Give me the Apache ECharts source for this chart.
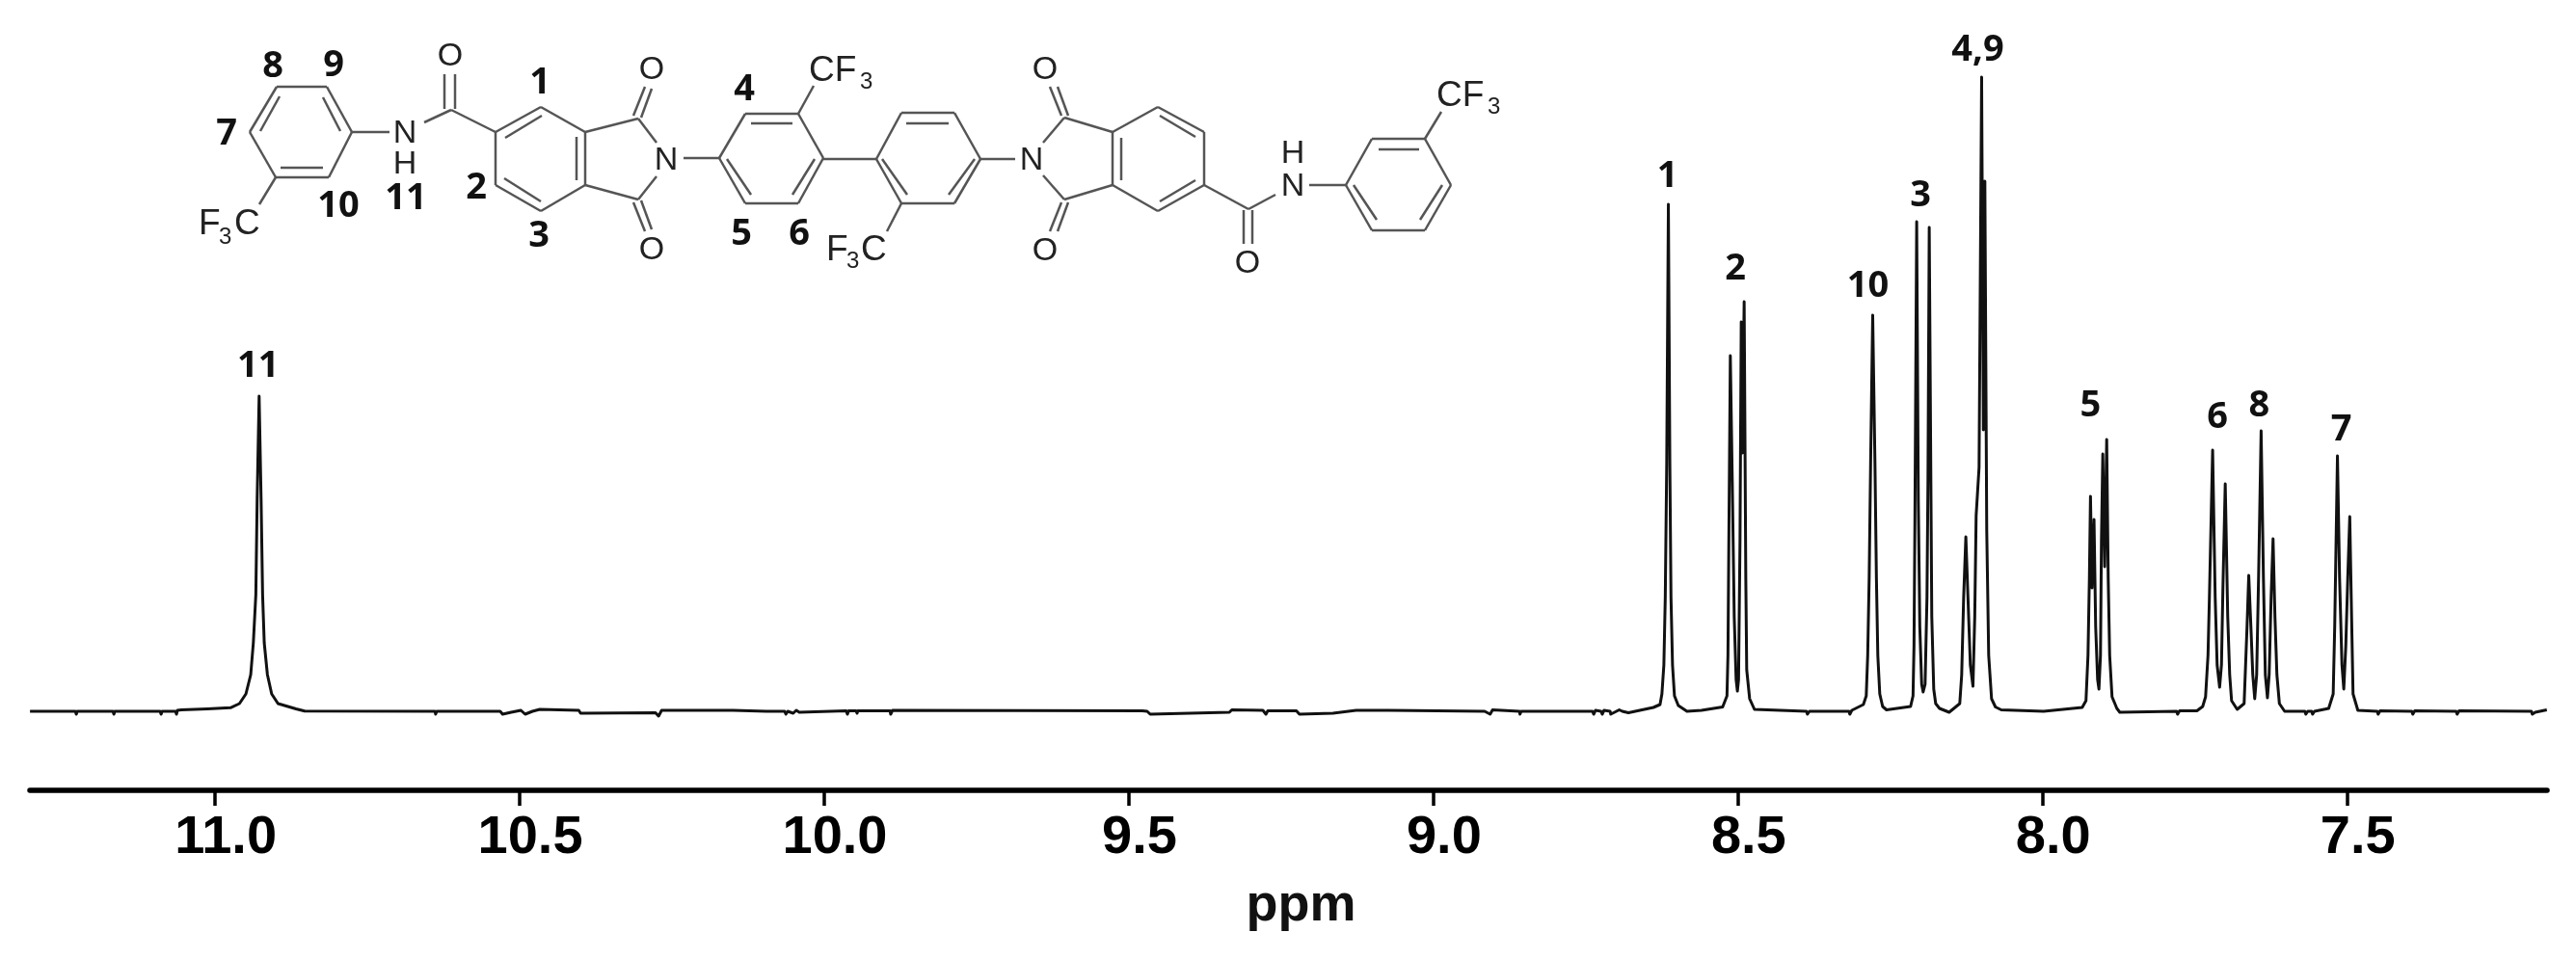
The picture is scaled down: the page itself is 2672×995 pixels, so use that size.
<!DOCTYPE html>
<html>
<head>
<meta charset="utf-8">
<title>1H NMR spectrum</title>
<style>
    html, body { margin: 0; padding: 0; background: #fff; }
    #chart { width: 2672px; height: 995px; }
</style>
<script src="https://cdn.jsdelivr.net/npm/echarts@6/dist/echarts.min.js"></script>
</head>
<body>
<div id="chart"></div>
<script>
// chemical shift of each trace point
const shift = [
    11.3038, 11.2294, 11.2278, 11.2263, 11.1677, 11.1661, 11.1646, 11.0902, 11.0886, 11.0870,
    11.0649, 11.0633, 11.0617, 11.0554, 11.0127, 10.9747,
    10.9600, 10.9494, 10.9415, 10.9372, 10.9331, 10.9309, 10.9277, 10.9245, 10.9220, 10.9193,
    10.9141, 10.9071, 10.8967, 10.8671, 10.853,
    10.639, 10.638, 10.636, 10.532, 10.528, 10.514, 10.498, 10.491, 10.479, 10.467,
    10.403, 10.400, 10.396, 10.277, 10.272, 10.267, 10.150, 10.095, 10.065, 10.063, 10.060,
    10.051, 10.046, 10.041, 10.038, 9.964, 9.962, 9.960, 9.948, 9.946, 9.945, 9.892, 9.891, 9.888,
    9.478, 9.470, 9.465, 9.335, 9.331, 9.280, 9.275, 9.272, 9.225, 9.220, 9.165, 9.127, 9.074,
    8.916, 8.907, 8.903, 8.859, 8.858, 8.856, 8.739, 8.737, 8.734, 8.725, 8.723, 8.720,
    8.710, 8.709, 8.695, 8.690, 8.680, 8.639,
    8.6281, 8.6250, 8.6218, 8.6195, 8.6171, 8.6144, 8.6120, 8.6101, 8.6076, 8.6044, 8.5981, 8.5839,
    8.5601, 8.5253, 8.5182, 8.5166, 8.5150, 8.5127, 8.5095, 8.5063, 8.5032, 8.5011, 8.4992, 8.4968,
    8.4948, 8.4929, 8.4900, 8.4873, 8.4858, 8.4810, 8.4731, 8.3877, 8.3861, 8.3829, 8.3180, 8.3165, 8.3133, 8.2943,
    8.2896, 8.2872, 8.2848, 8.2824, 8.2790, 8.2753, 8.2729, 8.2706, 8.2674, 8.2627, 8.2563,
    8.2168, 8.2128, 8.2112, 8.2097, 8.2068, 8.2041, 8.2017, 8.1986, 8.1962, 8.1930, 8.1899, 8.1883,
    8.1862, 8.1835, 8.1820, 8.1788, 8.1756, 8.1693, 8.1535, 8.1361, 8.1329, 8.1297, 8.1261, 8.1226,
    8.1187, 8.1144, 8.1115, 8.1092, 8.1044, 8.1002, 8.0973, 8.0949, 8.0918, 8.0886, 8.0839, 8.0775, 8.0680,
    7.9984, 7.9351, 7.9289, 7.9256, 7.9233, 7.9215, 7.9190, 7.9157, 7.9130, 7.9098, 7.9076, 7.9051, 7.9035,
    7.9013, 7.8982, 7.8949, 7.8924, 7.8900, 7.8861, 7.8782, 7.8734, 7.8703, 7.7801, 7.7785, 7.7753,
    7.7468, 7.7373, 7.7326, 7.7286, 7.7263, 7.7210, 7.7168, 7.7136, 7.7095, 7.7065, 7.7041, 7.7003,
    7.6962, 7.6930, 7.6899, 7.6807, 7.6693, 7.6669, 7.6645, 7.6617, 7.6582, 7.6551, 7.6519, 7.6487,
    7.6456, 7.6414, 7.6376, 7.6345, 7.6310, 7.6282, 7.6250, 7.6218, 7.6187, 7.6155, 7.6114, 7.6028,
    7.5696, 7.5680, 7.5649, 7.5585, 7.5569, 7.5538, 7.5305, 7.5231, 7.5206, 7.5161, 7.5126, 7.5087,
    7.5057, 7.5024, 7.4992, 7.4959, 7.4929, 7.4905, 7.4826, 7.4509, 7.4493, 7.4462, 7.3940, 7.3924, 7.3892,
    7.3212, 7.3196, 7.3165, 7.1978, 7.1962, 7.1915, 7.1724
];

// signal height for the same points, arbitrary units
const intensity = [
    0, 0, -3, 0, 0, -3, 0, 0, -3, 0,
    0, -3, 1, 1.5, 2.5, 3.7,
    8, 18, 38, 71, 121, 221, 327, 221, 121, 71,
    38, 18, 8, 2.5, 0.3,
    0, -3, 0, 0, -3, -1, 1, -3, 0, 2,
    1, -2, -2, -1.5, -5, 1, 1, 0, 0, -3, 0,
    -2, 1, -1, 1, 0.5, -3, 0.5, 0.5, -2, 0.5, 0.5, -3, 1,
    0.5, 0, -3, -1, 1.5, 1, -3, 0.5, 0.5, -3, -2, 1, 1,
    0, -3, 1.5, 0, -3, 0, 0, -3, 1, 0, -3, 1,
    0, -3, 1.5, 0, -1.5, 4,
    7, 18, 48, 118, 258, 526, 258, 118, 48, 16, 6, 0,
    1, 4.5, 16, 58, 188, 369, 238, 98, 33, 21, 33, 178,
    404, 268, 425, 138, 43, 13, 2, 0, -3, 0, 0, -3, 1, 7,
    16, 58, 138, 258, 411, 258, 138, 58, 18, 5, 1.5,
    5, 16, 68, 198, 508, 218, 88, 28, 20, 28, 118, 238,
    502, 238, 98, 23, 8, 3, -1, 8, 38, 118, 181, 118,
    48, 26, 98, 203, 253, 658, 292, 550, 188, 58, 13, 4.5, 1.5,
    0, 4, 11, 58, 138, 223, 128, 199, 88, 33, 23, 58, 178,
    267, 150, 282, 138, 58, 15, 3, -1, 1, 0, -3, 0.5,
    0.5, 5, 15, 58, 118, 271, 118, 48, 25, 48, 128, 236,
    98, 38, 11, 2, 8, 48, 88, 141, 88, 38, 13, 38,
    138, 291, 138, 38, 14, 38, 118, 179, 98, 38, 8, 0,
    0, -3, 0, 0, -3, 0, 3, 18, 88, 265, 138, 48,
    23, 68, 138, 202, 98, 18, 1, 0, -3, 0.5, 0, -3, 0.5,
    0, -3, 0.5, 0, -3, -1, 1.5
];

const tickValues = [11, 10.5, 10, 9.5, 9, 8.5, 8, 7.5];

// assignments sitting over the peaks
const peakNames = ['11', '1', '2', '10', '3', '4,9', '5', '6', '8', '7'];
const peakShifts = [10.9277, 8.6144, 8.4900, 8.2790, 8.2068, 8.1002, 7.9215, 7.7210, 7.6414, 7.5161];
const peakHeights = [327, 526, 425, 411, 508, 658, 223, 271, 291, 265];
const peakLabelOffsets = [
    [-1, -31], [-1, -29], [-9, -34], [-5, -30], [4, -27], [-4, -28], [0, -94], [5, -34], [-2, -26], [4, -27]
];

// molecule drawing, page pixels: x1, y1, x2, y2
const bonds = [
    [287, 90, 339, 90], [339, 90, 365, 137], [365, 137, 341, 184], [341, 184, 286, 184], [286, 184, 259, 137], [259, 137, 287, 90],
    [290, 100, 270, 136], [335, 101, 353, 136], [291, 174, 335, 174],
    [365, 137, 404, 137], [440, 127, 468, 114], [461, 113, 461, 77], [472, 113, 472, 77], [468, 114, 514, 137],
    [286, 184, 269, 212],
    [514, 137, 561, 111], [561, 111, 607, 137], [607, 137, 607, 192], [607, 192, 561, 219], [561, 219, 514, 192], [514, 192, 514, 137],
    [524, 143, 562, 120], [598, 142, 598, 187], [523, 185, 561, 209],
    [607, 137, 662, 123], [607, 192, 662, 207], [662, 123, 681, 148], [662, 207, 681, 183],
    [657, 120, 669, 90], [665, 122, 676, 92], [657, 210, 669, 240], [665, 208, 676, 238],
    [709, 164, 746, 164],
    [746, 164, 773, 118], [773, 118, 828, 118], [828, 118, 854, 164], [854, 164, 828, 211], [828, 211, 773, 211], [773, 211, 746, 164],
    [779, 128, 822, 128], [845, 165, 822, 202], [754, 165, 779, 202], [828, 118, 844, 89],
    [854, 165, 909, 165],
    [909, 165, 935, 117], [935, 117, 990, 117], [990, 117, 1017, 165], [1017, 165, 990, 211], [990, 211, 935, 211], [935, 211, 909, 165],
    [940, 128, 984, 128], [915, 165, 941, 202], [1011, 165, 984, 202], [935, 211, 920, 240],
    [1016, 165, 1053, 165],
    [1082, 148, 1104, 122], [1082, 182, 1104, 207], [1104, 122, 1154, 137], [1104, 207, 1154, 192],
    [1101, 120, 1089, 90], [1108, 120, 1097, 90], [1101, 210, 1089, 240], [1108, 210, 1097, 240],
    [1154, 137, 1201, 111], [1201, 111, 1249, 137], [1249, 137, 1249, 192], [1249, 192, 1201, 219], [1201, 219, 1154, 192], [1154, 192, 1154, 137],
    [1163, 143, 1163, 187], [1203, 120, 1240, 142], [1203, 209, 1240, 187],
    [1249, 192, 1295, 217], [1295, 217, 1323, 202], [1290, 218, 1290, 253], [1299, 218, 1299, 253], [1358, 192, 1396, 192],
    [1396, 192, 1423, 144], [1423, 144, 1478, 144], [1478, 144, 1505, 192], [1505, 192, 1478, 239], [1478, 239, 1423, 239], [1423, 239, 1396, 192],
    [1430, 155, 1472, 155], [1496, 192, 1473, 228], [1404, 192, 1428, 228], [1478, 144, 1495, 116]
];

const atoms = [
    ['O', 467, 59], ['N', 420, 139], ['H', 420, 171], ['O', 676, 73], ['O', 676, 260], ['N', 691, 167],
    ['N', 1070, 167], ['O', 1084, 73], ['O', 1084, 261], ['O', 1294, 274], ['N', 1341, 194], ['H', 1341, 160]
];

// CF3 groups are built from a big part and a small subscript, left aligned
const groups = [
    ['F', 206, 233, 37], ['3', 227, 246, 24], ['C', 243, 233, 37],
    ['CF', 839, 74, 37], ['3', 892, 85, 24],
    ['F', 857, 260, 37], ['3', 878, 271, 24], ['C', 893, 260, 37],
    ['CF', 1490, 100, 37], ['3', 1543, 111, 24]
];

const protonNumbers = [
    ['8', 283, 69], ['9', 346, 68], ['7', 235, 139], ['10', 351, 214], ['11', 421, 206],
    ['1', 560, 86], ['2', 494, 195], ['3', 559, 245], ['4', 772, 93], ['5', 769, 243], ['6', 829, 243]
];

const AXIS_FONT = '"Liberation Sans", Arial, sans-serif';
const NUMBER_FONT = '"Open Sans", sans-serif';

let graphics = [];
for (let b of bonds) {
    graphics.push({
        type: 'line', silent: true,
        shape: { x1: b[0], y1: b[1], x2: b[2], y2: b[3] },
        style: { stroke: '#555', lineWidth: 2.5 }
    });
}
for (let a of atoms) {
    graphics.push({
        type: 'text', silent: true, x: a[1], y: a[2],
        style: { text: a[0], font: '34px ' + AXIS_FONT, fill: '#222', align: 'center', verticalAlign: 'middle' }
    });
}
for (let g of groups) {
    graphics.push({
        type: 'text', silent: true, x: g[1], y: g[2],
        style: { text: g[0], font: g[3] + 'px ' + AXIS_FONT, fill: '#222', align: 'left', verticalAlign: 'middle' }
    });
}
for (let n of protonNumbers) {
    graphics.push({
        type: 'text', silent: true, x: n[1], y: n[2],
        style: { text: n[0], font: 'bold 38px ' + NUMBER_FONT, fill: '#111', align: 'center', verticalAlign: 'middle' }
    });
}

const chart = echarts.init(document.getElementById('chart'), null, { renderer: 'canvas' });

chart.setOption({
    animation: false,
    backgroundColor: '#fff',
    grid: { left: 31, right: 30, top: 0, bottom: 175 },
    xAxis: {
        type: 'value',
        inverse: true,
        min: 7.172,
        max: 11.304,
        name: 'ppm',
        nameLocation: 'middle',
        nameGap: 93,
        nameTextStyle: {
            fontFamily: AXIS_FONT, fontWeight: 'bold', fontSize: 54, color: '#111',
            padding: [0, 0, 0, 26]
        },
        splitLine: { show: false },
        axisLine: { show: true, onZero: false, lineStyle: { color: '#000', width: 5.5 } },
        axisTick: {
            show: true, length: 16, customValues: tickValues,
            lineStyle: { color: '#000', width: 3.5 }
        },
        axisLabel: {
            customValues: tickValues,
            margin: 22,
            fontFamily: AXIS_FONT, fontWeight: 'bold', fontSize: 56, color: '#000',
            padding: [0, 0, 0, 22],
            formatter: (v) => Number(v).toFixed(1)
        }
    },
    yAxis: {
        type: 'value',
        show: false,
        min: -82,
        max: 738
    },
    series: [
        {
            name: 'spectrum',
            type: 'line',
            showSymbol: false,
            smooth: false,
            sampling: false,
            lineStyle: { color: '#111', width: 3, join: 'round' },
            data: shift.map((s, i) => [s, intensity[i]])
        },
        {
            name: 'assignments',
            type: 'scatter',
            symbolSize: 1,
            itemStyle: { color: 'transparent', opacity: 1 },
            data: peakNames.map((name, i) => ({
                name: name,
                value: [peakShifts[i], peakHeights[i]],
                label: { offset: peakLabelOffsets[i] }
            })),
            label: {
                show: true,
                position: 'inside',
                formatter: '{b}',
                opacity: 1,
                fontFamily: NUMBER_FONT, fontWeight: 'bold', fontSize: 38, color: '#111'
            }
        }
    ],
    graphic: graphics
});
</script>
</body>
</html>
